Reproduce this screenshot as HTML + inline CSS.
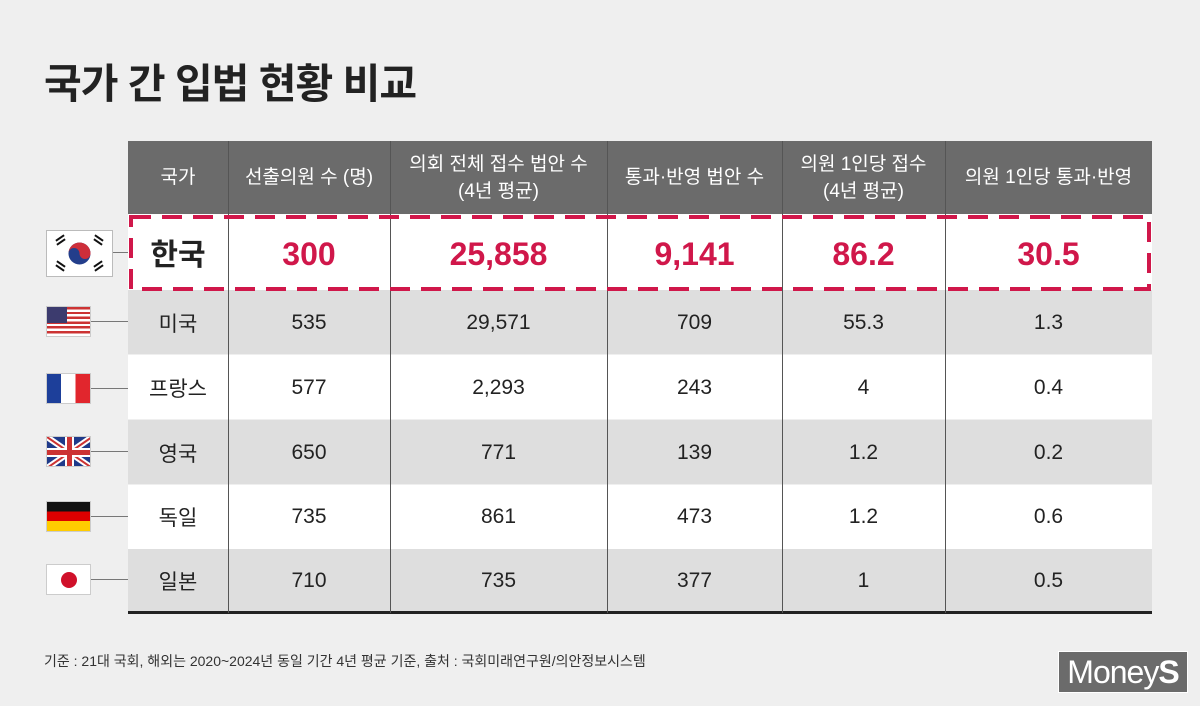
<!DOCTYPE html>
<html><head><meta charset="utf-8"><style>
body{margin:0;width:1200px;height:706px;background:#efefef;font-family:"Liberation Sans","Noto Sans CJK KR",sans-serif;position:relative;overflow:hidden}
.a{position:absolute}
.title{left:44px;top:50px;font-size:41px;font-weight:bold;color:#222;letter-spacing:-1px}
.hdr{left:128px;top:141px;width:1024px;height:73px;background:#6b6b6b}
.row{left:128px;width:1024px;height:64px}
.c{position:absolute;text-align:center;display:flex;align-items:center;justify-content:center;color:#222;font-size:21px}
.h{color:#fff;font-size:19px;line-height:27px}
.vl{position:absolute;width:1px;background:#555;top:141px;height:472px}
.fl{position:absolute;left:46px;width:45px;height:31px;border:1px solid #ccc;box-sizing:border-box;overflow:hidden}
.ln{position:absolute;left:91px;width:37px;height:1px;background:#777}
.r{color:#d0174a;font-weight:bold;font-size:32px}
</style></head><body>
<div class="a title">국가 간 입법 현황 비교</div>
<div class="a hdr"></div>
<div class="a" style="left:128px;top:214px;width:1024px;height:76px;background:#fff"></div>
<div class="a row" style="top:290px;background:#dedede"></div>
<div class="a row" style="top:355px;background:#fff"></div>
<div class="a row" style="top:420px;background:#dedede"></div>
<div class="a row" style="top:485px;background:#fff"></div>
<div class="a row" style="top:549px;background:#dedede"></div>
<div class="a" style="left:128px;top:611px;width:1024px;height:3px;background:#222"></div>
<div class="vl" style="left:228px"></div><div class="vl" style="left:390px"></div><div class="vl" style="left:607px"></div><div class="vl" style="left:782px"></div><div class="vl" style="left:945px"></div>
<svg class="a" style="left:128px;top:214px" width="1024" height="78"><rect x="3" y="3" width="1018" height="72" fill="none" stroke="#d0174a" stroke-width="4" stroke-dasharray="20 11"/></svg>
<!-- header -->
<div class="c h" style="left:128px;top:141px;width:100px;height:73px">국가</div>
<div class="c h" style="left:228px;top:141px;width:162px;height:73px">선출의원 수 (명)</div>
<div class="c h" style="left:390px;top:141px;width:217px;height:73px">의회 전체 접수 법안 수<br>(4년 평균)</div>
<div class="c h" style="left:607px;top:141px;width:175px;height:73px">통과·반영 법안 수</div>
<div class="c h" style="left:782px;top:141px;width:163px;height:73px">의원 1인당 접수<br>(4년 평균)</div>
<div class="c h" style="left:945px;top:141px;width:207px;height:73px">의원 1인당 통과·반영</div>
<!-- korea -->
<div class="c" style="left:128px;top:214px;width:100px;height:76px;font-size:30px;font-weight:bold">한국</div>
<div class="c r" style="left:228px;top:214px;width:162px;height:80px">300</div>
<div class="c r" style="left:390px;top:214px;width:217px;height:80px">25,858</div>
<div class="c r" style="left:607px;top:214px;width:175px;height:80px">9,141</div>
<div class="c r" style="left:782px;top:214px;width:163px;height:80px">86.2</div>
<div class="c r" style="left:945px;top:214px;width:207px;height:80px">30.5</div>
<!-- rows -->
<div class="c" style="left:128px;top:290px;width:100px;height:65px">미국</div><div class="c" style="left:228px;top:290px;width:162px;height:65px">535</div><div class="c" style="left:390px;top:290px;width:217px;height:65px">29,571</div><div class="c" style="left:607px;top:290px;width:175px;height:65px">709</div><div class="c" style="left:782px;top:290px;width:163px;height:65px">55.3</div><div class="c" style="left:945px;top:290px;width:207px;height:65px">1.3</div>
<div class="c" style="left:128px;top:355px;width:100px;height:65px">프랑스</div><div class="c" style="left:228px;top:355px;width:162px;height:65px">577</div><div class="c" style="left:390px;top:355px;width:217px;height:65px">2,293</div><div class="c" style="left:607px;top:355px;width:175px;height:65px">243</div><div class="c" style="left:782px;top:355px;width:163px;height:65px">4</div><div class="c" style="left:945px;top:355px;width:207px;height:65px">0.4</div>
<div class="c" style="left:128px;top:420px;width:100px;height:65px">영국</div><div class="c" style="left:228px;top:420px;width:162px;height:65px">650</div><div class="c" style="left:390px;top:420px;width:217px;height:65px">771</div><div class="c" style="left:607px;top:420px;width:175px;height:65px">139</div><div class="c" style="left:782px;top:420px;width:163px;height:65px">1.2</div><div class="c" style="left:945px;top:420px;width:207px;height:65px">0.2</div>
<div class="c" style="left:128px;top:485px;width:100px;height:64px">독일</div><div class="c" style="left:228px;top:485px;width:162px;height:64px">735</div><div class="c" style="left:390px;top:485px;width:217px;height:64px">861</div><div class="c" style="left:607px;top:485px;width:175px;height:64px">473</div><div class="c" style="left:782px;top:485px;width:163px;height:64px">1.2</div><div class="c" style="left:945px;top:485px;width:207px;height:64px">0.6</div>
<div class="c" style="left:128px;top:549px;width:100px;height:63px">일본</div><div class="c" style="left:228px;top:549px;width:162px;height:63px">710</div><div class="c" style="left:390px;top:549px;width:217px;height:63px">735</div><div class="c" style="left:607px;top:549px;width:175px;height:63px">377</div><div class="c" style="left:782px;top:549px;width:163px;height:63px">1</div><div class="c" style="left:945px;top:549px;width:207px;height:63px">0.5</div>
<!-- flags -->
<div class="a" style="left:46px;top:230px;width:67px;height:47px;background:#fff;border:1px solid #bbb;box-sizing:border-box">
<svg width="65" height="45"><circle cx="32.5" cy="22.5" r="11" fill="#233e8b"/><path d="M21.5 22.5a11 11 0 0 1 22 0a5.5 5.5 0 0 1-11 0a5.5 5.5 0 0 0-11 0z" fill="#cd2e3a"/><g fill="#111"><rect x="8" y="6" width="10" height="2" transform="rotate(-35 13 7)"/><rect x="9" y="10" width="10" height="2" transform="rotate(-35 14 11)"/><rect x="47" y="6" width="10" height="2" transform="rotate(35 52 7)"/><rect x="46" y="10" width="10" height="2" transform="rotate(35 51 11)"/><rect x="8" y="36" width="10" height="2" transform="rotate(35 13 37)"/><rect x="9" y="32" width="10" height="2" transform="rotate(35 14 33)"/><rect x="47" y="36" width="10" height="2" transform="rotate(-35 52 37)"/><rect x="46" y="32" width="10" height="2" transform="rotate(-35 51 33)"/></g></svg></div>
<div class="ln" style="left:113px;width:15px;top:252px"></div>
<div class="fl" style="top:306px;background:repeating-linear-gradient(#c33 0 2.4px,#fff 2.4px 4.8px)"><div style="width:20px;height:16px;background:#3c3b6e"></div></div>
<div class="ln" style="top:321px"></div>
<div class="fl" style="top:373px;background:linear-gradient(90deg,#1d3f9a 33%,#fff 33% 66%,#e1262d 66%)"></div>
<div class="ln" style="top:388px"></div>
<div class="fl" style="top:436px;background:#1f3a8a"><svg width="45" height="31"><path d="M0 0L45 31M45 0L0 31" stroke="#fff" stroke-width="6"/><path d="M0 0L45 31M45 0L0 31" stroke="#c33" stroke-width="2"/><path d="M22.5 0V31M0 15.5H45" stroke="#fff" stroke-width="9"/><path d="M22.5 0V31M0 15.5H45" stroke="#c33" stroke-width="5"/></svg></div>
<div class="ln" style="top:451px"></div>
<div class="fl" style="top:501px;background:linear-gradient(#111 33%,#d00 33% 66%,#fc0 66%)"></div>
<div class="ln" style="top:516px"></div>
<div class="fl" style="top:564px;background:#fff"><div style="position:absolute;left:14px;top:7px;width:16px;height:16px;border-radius:50%;background:#d0102a"></div></div>
<div class="ln" style="top:579px"></div>
<div class="a" style="left:44px;top:651px;font-size:14px;color:#333">기준 : 21대 국회, 해외는 2020~2024년 동일 기간 4년 평균 기준, 출처 : 국회미래연구원/의안정보시스템</div>
<div class="a" style="left:1058px;top:651px;width:128px;height:40px;background:#6b6b6b;border:1px solid #fff;color:#fff;font-size:32px;line-height:40px;text-align:center;letter-spacing:-1px"><span style="font-weight:300">Money</span><b>S</b></div>
</body></html>
